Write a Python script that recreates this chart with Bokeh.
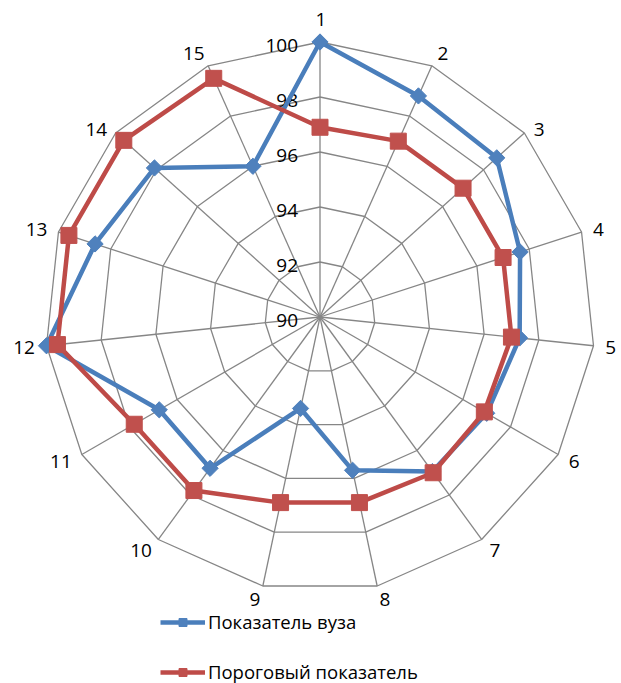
import numpy as np
from bokeh.plotting import figure
from bokeh.models import Range1d, Legend, LegendItem
from bokeh.core.properties import value
from bokeh.embed import file_html
from bokeh.resources import INLINE

categories = [str(i) for i in range(1, 16)]
uni_values = [100.0, 98.8, 98.65, 97.65, 97.3, 97.0, 96.95, 95.7, 93.4, 96.8, 96.75, 100.0, 98.6, 98.1, 96.0]
threshold_values = [96.9, 97.0, 97.0, 97.0, 97.0, 96.9, 97.0, 96.9, 96.9, 97.8, 97.8, 99.6, 99.6, 99.6, 99.5]
ring_values = [92, 94, 96, 98, 100]
tick_values = [90, 92, 94, 96, 98, 100]
tick_labels = ["90", "92", "94", "96", "98", "100"]
series_names = ["Показатель вуза", "Пороговый показатель"]
r_min, r_max = 90.0, 100.0

FONT = "Open Sans"
GRID = "#868686"
BLUE = "#4a7ebb"
RED = "#be4b48"

n = len(categories)
theta = np.arange(n) * 2 * np.pi / n  # clockwise from top


def to_xy(vals):
    r = (np.asarray(vals, dtype=float) - r_min) / (r_max - r_min)
    return r * np.sin(theta), r * np.cos(theta)


W, H = 621, 683
cx, cy = 319.5, 316.5  # center in pixels from top-left
R = 275.0

p = figure(width=W, height=H,
           x_range=Range1d(-cx / R, (W - cx) / R),
           y_range=Range1d(-(H - cy) / R, cy / R),
           output_backend="svg", toolbar_location=None,
           x_axis_location=None, y_axis_location=None, min_border=0)
p.grid.visible = False
p.outline_line_color = None
p.background_fill_color = "white"

# rings
xs, ys = [], []
for v in ring_values:
    x, y = to_xy([v] * n)
    xs.append(list(x) + [x[0]])
    ys.append(list(y) + [y[0]])
p.multi_line(xs, ys, line_color=GRID, line_width=1.3)

# spokes
ox, oy = to_xy([r_max] * n)
p.multi_line([[0, a] for a in ox], [[0, b] for b in oy], line_color=GRID, line_width=1.3)

# radial tick labels
tr = (np.array(tick_values) - r_min) / (r_max - r_min)
p.text(x=[0] * len(tr), y=list(tr), text=tick_labels, x_offset=-22, y_offset=3,
       text_font=value(FONT), text_font_size="19px", text_color="#000000",
       text_align="right", text_baseline="middle")

# category labels, placed just outside the outer ring
s, c = np.sin(theta), np.cos(theta)
half_w = np.array([5.25 * len(t) for t in categories])
x_off = np.sign(s) * np.sqrt(np.abs(s)) * (half_w + 12)
x_off[np.abs(s) < 1e-9] = 1
y_off = np.where(c >= 0, -(20 * c ** 8 + 3), -14 * c)
p.text(x=list(ox), y=list(oy), text=categories, x_offset=list(x_off), y_offset=list(y_off),
       text_font=value(FONT), text_font_size="19px", text_color="#000000",
       text_align="center", text_baseline="middle")

# series (blue first, red on top as in the original)
ux, uy = to_xy(uni_values)
tx, ty = to_xy(threshold_values)

l1 = p.line(list(ux) + [ux[0]], list(uy) + [uy[0]], line_color=BLUE, line_width=4.5, line_join="round")
m1 = p.scatter(list(ux), list(uy), marker="square", angle=np.pi / 4, size=11.5,
               fill_color="#4f81bd", line_color="#4f81bd")

l2 = p.line(list(tx) + [tx[0]], list(ty) + [ty[0]], line_color=RED, line_width=4.5, line_join="round")
m2 = p.scatter(list(tx), list(ty), marker="square", size=16, fill_color="#c0504d", line_color="#c0504d")

legend = Legend(items=[LegendItem(label=series_names[0], renderers=[l1, m1]),
                       LegendItem(label=series_names[1], renderers=[l2, m2])],
                location=(160, -1), orientation="vertical",
                glyph_width=45, glyph_height=20, label_height=20, spacing=25,
                label_standoff=3, padding=0, margin=0,
                border_line_color=None, background_fill_alpha=0,
                label_text_font=FONT, label_text_font_size="18.5px", label_text_color="#000000")
p.add_layout(legend)

open("out.html", "w").write(file_html(p, INLINE))
